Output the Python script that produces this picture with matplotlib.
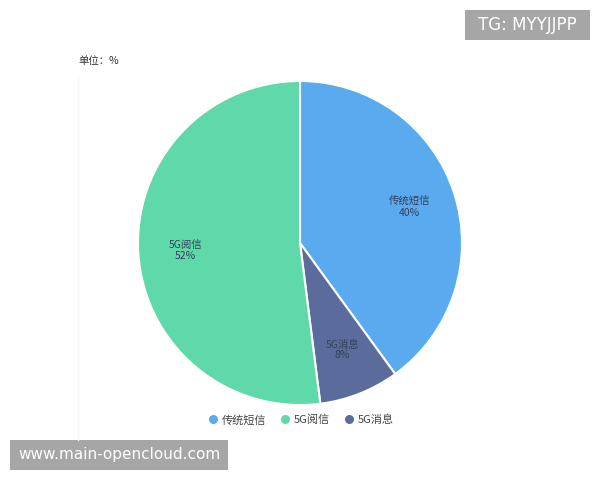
import matplotlib.pyplot as plt
import numpy as np
from matplotlib.patches import Rectangle
from matplotlib.lines import Line2D

plt.rcParams['font.family'] = ['Noto Sans CJK SC', 'DejaVu Sans']

labels = ['传统短信', '5G消息', '5G阅信']
values = [40, 8, 52]
colors = ['#5aaaf0', '#5b6b9b', '#5fd8aa']
legend_order = ['传统短信', '5G阅信', '5G消息']

fig = plt.figure(figsize=(6, 4.8), dpi=100)
W, H = 600, 480

# pie centre ~(300,243), radius ~162 px
cx, cy, r = 300, 243, 162
ax = fig.add_axes([(cx - r) / W, (H - cy - r) / H, 2 * r / W, 2 * r / H])
wedges, _ = ax.pie(values, colors=colors, startangle=90, counterclock=False,
                   radius=1.0, wedgeprops=dict(edgecolor='white', linewidth=1.5))
for w, lab, v in zip(wedges, labels, values):
    mid = np.deg2rad((w.theta1 + w.theta2) / 2)
    ax.text(0.71 * np.cos(mid), 0.71 * np.sin(mid), f'{lab}\n{v}%',
            ha='center', va='center', fontsize=7.5, color='#34405a', linespacing=1.1)
ax.set_xlim(-1, 1)
ax.set_ylim(-1, 1)
ax.set_aspect('equal')
ax.axis('off')

# barely visible frame line on the left
fig.add_artist(Line2D([78 / W, 78 / W], [1 - 75 / H, 1 - 440 / H],
                      color='#f8f8f8', linewidth=1))

fig.text(78 / W, 1 - 61 / H, '单位：%', fontsize=7.5, color='#333333', va='center')

# legend
handles = [Line2D([], [], marker='o', linestyle='none', markersize=6.5,
                  markerfacecolor=colors[labels.index(l)], markeredgecolor='none')
           for l in legend_order]
fig.legend(handles, legend_order, loc='center', bbox_to_anchor=(300 / W, 1 - 420 / H),
           ncol=3, frameon=False, fontsize=8, handletextpad=0.2, columnspacing=1.1,
           handlelength=1.2, labelcolor='#444444')

# watermark boxes
fig.add_artist(Rectangle((465 / W, 1 - 40 / H), 125 / W, 30 / H, transform=fig.transFigure,
                         facecolor='#a6a6a6', edgecolor='none'))
fig.text(527 / W, 1 - 25 / H, 'TG: MYYJJPP', fontsize=12, color='white',
         ha='center', va='center', family='DejaVu Sans')
fig.add_artist(Rectangle((10 / W, 1 - 470 / H), 218 / W, 30 / H, transform=fig.transFigure,
                         facecolor='#a6a6a6', edgecolor='none'))
fig.text(119 / W, 1 - 455 / H, 'www.main-opencloud.com', fontsize=11, color='white',
         ha='center', va='center', family='DejaVu Sans')

fig.savefig('out.png', dpi=100)
